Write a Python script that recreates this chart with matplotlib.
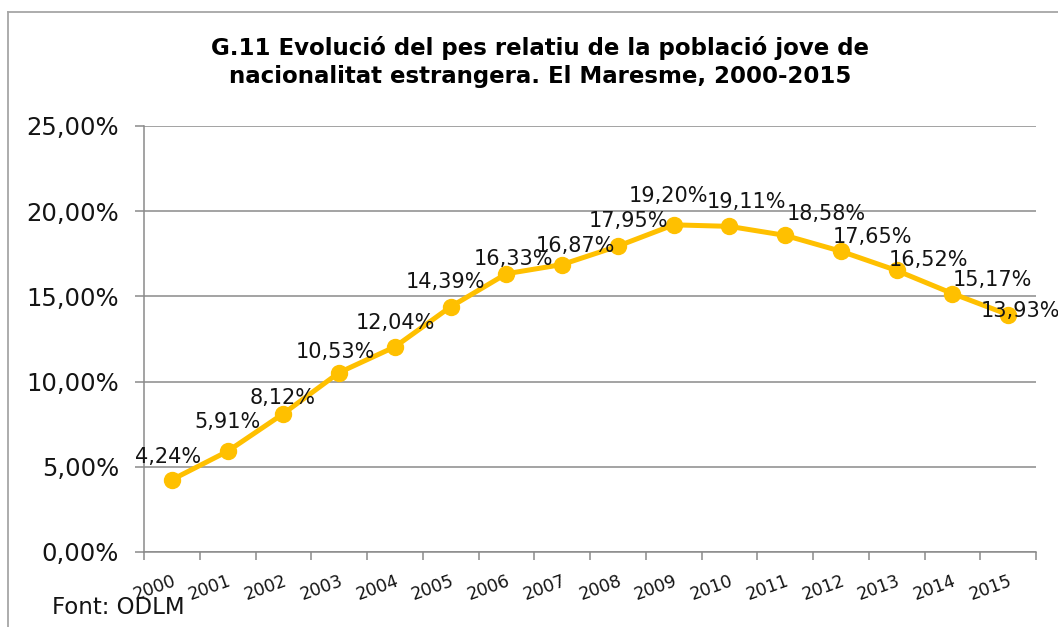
"""
G.11 - pes relatiu de la poblacio jove estrangera, El Maresme 2000-2015
"""
import matplotlib
matplotlib.use('Agg')
import matplotlib.pyplot as plt
from matplotlib.lines import Line2D
from matplotlib.ticker import FuncFormatter

# dades
years = ['2000', '2001', '2002', '2003', '2004', '2005', '2006', '2007',
         '2008', '2009', '2010', '2011', '2012', '2013', '2014', '2015']
pct_jove_estrangera = [4.24, 5.91, 8.12, 10.53, 12.04, 14.39, 16.33, 16.87,
                       17.95, 19.20, 19.11, 18.58, 17.65, 16.52, 15.17, 13.93]
y_ticks = [0, 5, 10, 15, 20, 25]

title = 'G.11 Evolució del pes relatiu de la població jove de\nnacionalitat estrangera. El Maresme, 2000-2015'
source = 'Font: ODLM'

# desplacament de les etiquetes (pixels), com a l'original
label_offsets = [(-4, 23), (0, 29), (-1, 16), (-4, 21), (0, 24), (-5, 25),
                 (7, 15), (13, 19), (11, 25), (-5, 29), (17, 24), (41, 21),
                 (32, 14), (32, 10), (40, 14), (12, 4)]

gold = '#FFC000'
grey = '#8a8a8a'
txt = '#141414'

fig = plt.figure(figsize=(10.58, 6.27), dpi=100)
ax = fig.add_axes([144 / 1058, 1 - 552 / 627, (1036 - 144) / 1058, (552 - 126) / 627])

x = list(range(len(years)))
ax.plot(x, pct_jove_estrangera, color=gold, lw=3.6, marker='o', markersize=11.5,
        markeredgecolor=gold, zorder=3, clip_on=False)

# etiquetes de dades
for i, v in enumerate(pct_jove_estrangera):
    dx, dy = label_offsets[i]
    ax.annotate(f'{v:.2f}%'.replace('.', ','), (i, v), xytext=(dx, dy),
                textcoords='offset pixels', ha='center', va='center',
                fontsize=15, color=txt, zorder=4, annotation_clip=False)

ax.set_xlim(-0.5, len(years) - 0.5)
ax.set_ylim(0, 25)
ax.set_yticks(y_ticks)
ax.yaxis.set_major_formatter(FuncFormatter(lambda v, p: f'{v:.2f}%'.replace('.', ',')))
ax.yaxis.grid(True, color=grey, lw=1.1)
ax.set_axisbelow(True)

# marques a les vores de categoria, etiquetes al centre
ax.set_xticks([i - 0.5 for i in range(len(years) + 1)])
ax.set_xticklabels([])
ax.set_xticks(x, minor=True)
ax.set_xticklabels(years, minor=True)
ax.tick_params(axis='x', which='major', length=5.5, width=1.1, color=grey, direction='out')
ax.tick_params(axis='x', which='minor', length=0, pad=14.5, labelsize=12.5, labelcolor=txt)
plt.setp(ax.get_xticklabels(minor=True), rotation=20, ha='right', rotation_mode='anchor')
ax.tick_params(axis='y', length=6.5, width=1.1, color=grey, pad=11.5, labelsize=17.5, labelcolor=txt)

for s in ['top', 'right']:
    ax.spines[s].set_visible(False)
for s in ['left', 'bottom']:
    ax.spines[s].set_color(grey)
    ax.spines[s].set_linewidth(1.1)

fig.text(540 / 1058, 1 - 62 / 627, title, ha='center', va='center',
         fontsize=16.5, fontweight='bold', color='black', linespacing=1.25)
fig.text(52 / 1058, 1 - 607 / 627, source, ha='left', va='center', fontsize=16.5, color=txt)

# vora exterior del grafic
fx, fy = 8 / 1058, 1 - 12 / 627
fig.add_artist(Line2D([fx, fx], [0, fy], color='#a6a6a6', lw=1.3))
fig.add_artist(Line2D([fx, 1], [fy, fy], color='#a6a6a6', lw=1.3))

fig.savefig('out.png', dpi=100)
